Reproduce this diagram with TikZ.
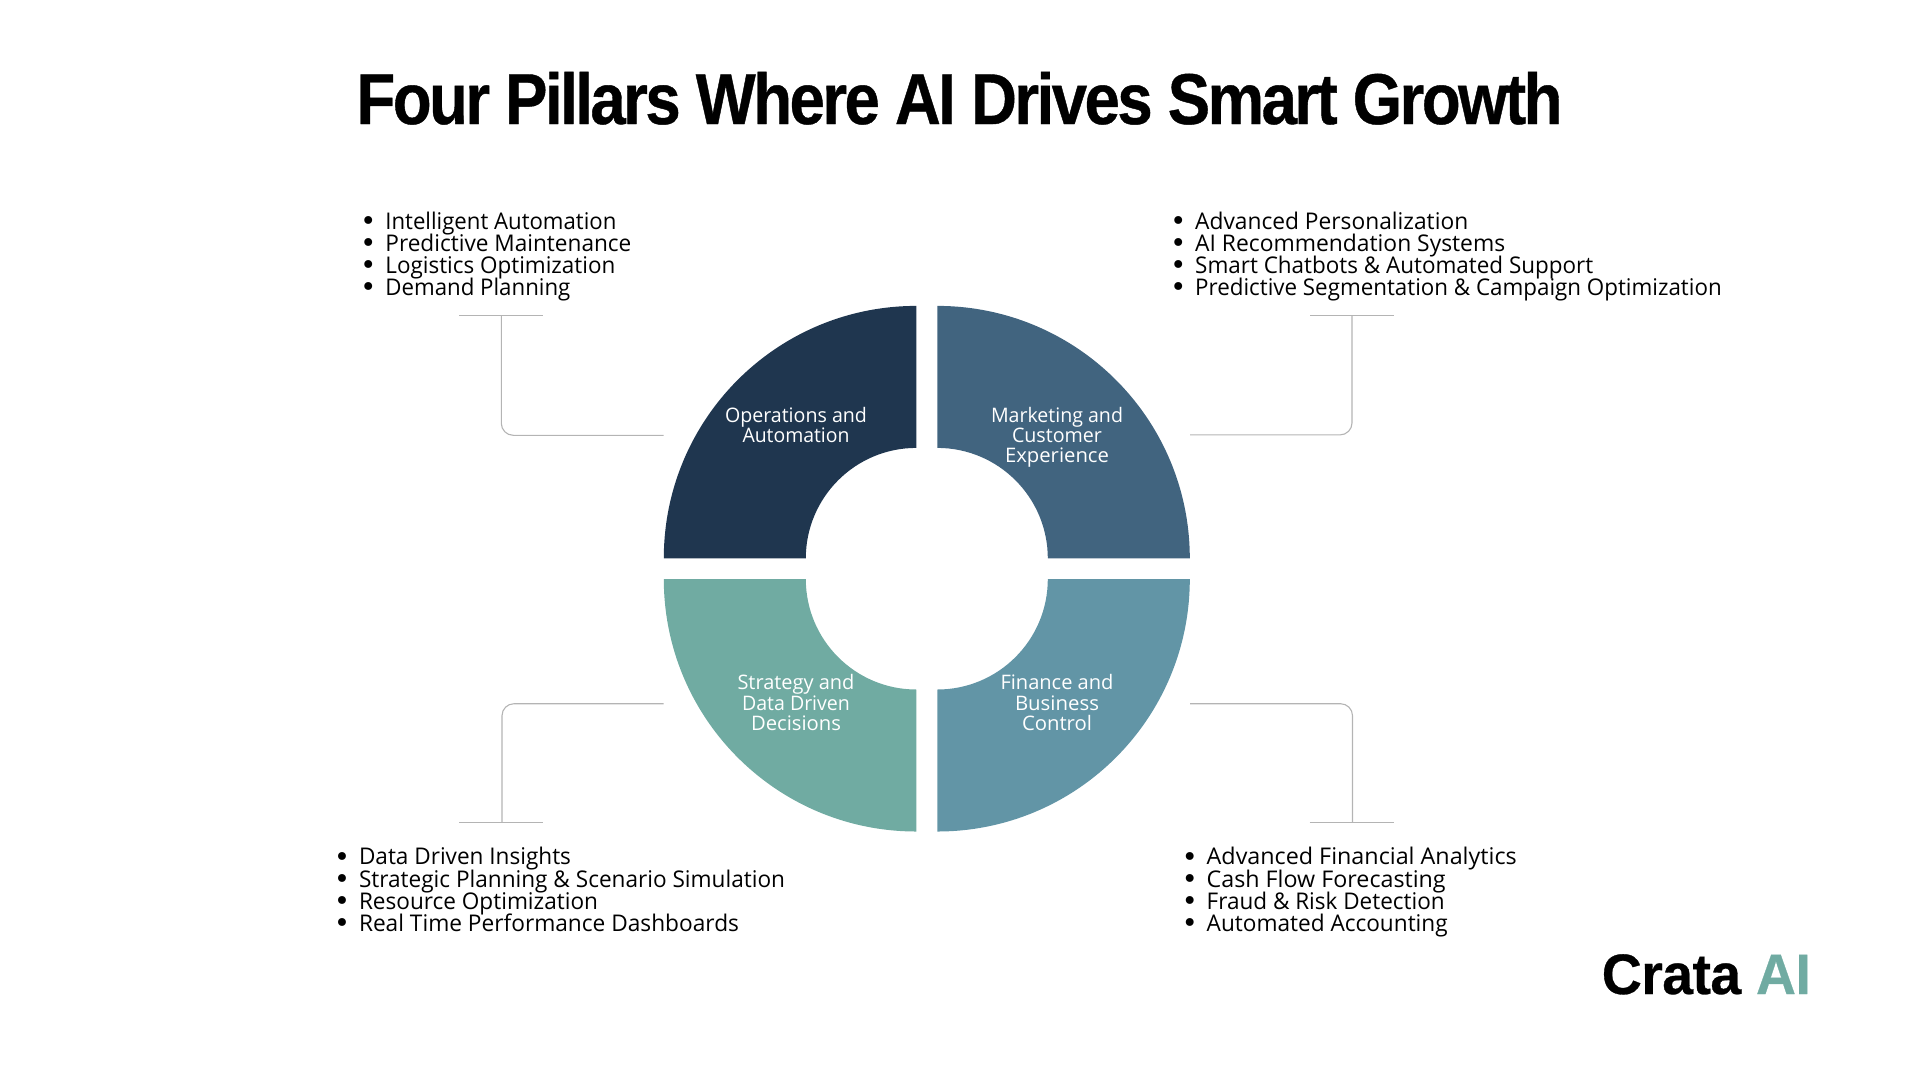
\documentclass[tikz,border=0pt]{standalone}
\usepackage{fontspec}
\usepackage{graphicx}
\setmainfont{Open Sans}
\newfontfamily\titlefont[LetterSpace=-4,FakeBold=0.6]{Liberation Sans}
\newfontfamily\logofont[LetterSpace=-1,FakeBold=0.5]{Liberation Sans}
\newfontfamily\bulfont{DejaVu Sans}
\definecolor{opscol}{HTML}{1F364F}
\definecolor{mktcol}{HTML}{41647F}
\definecolor{stratcol}{HTML}{70ABA2}
\definecolor{fincol}{HTML}{6295A6}
\definecolor{linecol}{HTML}{B4B4B4}
\newcommand\fitw[2]{\resizebox{#1pt}{\height}{#2}}
\newcommand\bul[2]{\llap{{\bulfont\fontsize{27}{27}\selectfont\raisebox{-1.5pt}{•}}\hspace{9pt}}\fitw{#1}{#2}}
\tikzset{
  seglabel/.style={text=white,font=\fontsize{20}{20}\selectfont,inner sep=0pt,anchor=base},
  listitem/.style={text=black,font=\fontsize{23}{23}\selectfont,inner sep=0pt,anchor=base west},
  conn/.style={draw=linecol,line width=1.1pt,rounded corners=12pt},
  barline/.style={draw=linecol,line width=1.1pt},
}
\begin{document}
\begin{tikzpicture}[x=1pt,y=-1pt]
\useasboundingbox (0,0) rectangle (1920,1080);
% sectors
\fill[opscol] (663.8,558.4) arc[start angle=180,end angle=90,radius=252.5pt] -- (916.3,447.9) arc[start angle=90,end angle=180,radius=110.5pt] -- cycle;
\fill[mktcol] (1189.8,558.4) arc[start angle=0,end angle=90,radius=252.5pt] -- (937.3,447.9) arc[start angle=90,end angle=0,radius=110.5pt] -- cycle;
\fill[stratcol] (663.8,579) arc[start angle=180,end angle=270,radius=252.5pt] -- (916.3,689.5) arc[start angle=270,end angle=180,radius=110.5pt] -- cycle;
\fill[fincol] (1189.8,579) arc[start angle=360,end angle=270,radius=252.5pt] -- (937.3,689.5) arc[start angle=270,end angle=360,radius=110.5pt] -- cycle;
% title
\node[inner sep=0pt,anchor=base] (title) at (959.5,124) {\resizebox{1206pt}{\height}{\titlefont\fontsize{72}{72}\selectfont\bfseries Four Pillars Where AI Drives Smart Growth}};
% logo
\node[inner sep=0pt,anchor=base west] (logo) at (1601.6,994) {\resizebox{209pt}{\height}{\logofont\fontsize{57}{57}\selectfont\bfseries Crata \textcolor{stratcol}{AI}}};
% segment labels
\node[seglabel] (ops1) at (796,422.7) {\fitw{142}{Operations and}};
\node[seglabel] (ops2) at (796,442.7) {\fitw{107}{Automation}};
\node[seglabel] (mkt1) at (1057,422.7) {\fitw{132}{Marketing and}};
\node[seglabel] (mkt2) at (1057,442.7) {\fitw{90}{Customer}};
\node[seglabel] (mkt3) at (1057,462.7) {\fitw{104}{Experience}};
\node[seglabel] (str1) at (796,689.8) {\fitw{117}{Strategy and}};
\node[seglabel] (str2) at (796,710.2) {\fitw{108}{Data Driven}};
\node[seglabel] (str3) at (796,730.2) {\fitw{90}{Decisions}};
\node[seglabel] (fin1) at (1057,689.8) {\fitw{113}{Finance and}};
\node[seglabel] (fin2) at (1057,710.2) {\fitw{84}{Business}};
\node[seglabel] (fin3) at (1057,730.2) {\fitw{70}{Control}};
% lists
\node[listitem] (tla) at (385.2,229.3) {\bul{231}{Intelligent Automation}};
\node[listitem] (tlb) at (385.2,251.3) {\bul{246}{Predictive Maintenance}};
\node[listitem] (tlc) at (385.2,273.3) {\bul{230}{Logistics Optimization}};
\node[listitem] (tld) at (385.2,295.3) {\bul{185}{Demand Planning}};
\node[listitem] (tra) at (1195,229.3) {\bul{273}{Advanced Personalization}};
\node[listitem] (trb) at (1195,251.3) {\bul{310}{AI Recommendation Systems}};
\node[listitem] (trc) at (1195,273.3) {\bul{398}{Smart Chatbots \& Automated Support}};
\node[listitem] (trd) at (1195,295.3) {\bul{526.5}{Predictive Segmentation \& Campaign Optimization}};
\node[listitem] (bla) at (358.8,864.7) {\bul{212}{Data Driven Insights}};
\node[listitem] (blb) at (358.8,887) {\bul{426}{Strategic Planning \& Scenario Simulation}};
\node[listitem] (blc) at (358.8,909) {\bul{239}{Resource Optimization}};
\node[listitem] (bld) at (358.8,931) {\bul{380}{Real Time Performance Dashboards}};
\node[listitem] (bra) at (1206.5,864.7) {\bul{310}{Advanced Financial Analytics}};
\node[listitem] (brb) at (1206.5,887) {\bul{239}{Cash Flow Forecasting}};
\node[listitem] (brc) at (1206.5,909) {\bul{238}{Fraud \& Risk Detection}};
\node[listitem] (brd) at (1206.5,931) {\bul{241}{Automated Accounting}};
% connector anchors
\coordinate (tlOut) at (663.5,435.3); \coordinate (tlMid) at (501.3,315.7);
\coordinate (tlL) at (459,315.7); \coordinate (tlR) at (542.7,315.7);
\coordinate (trOut) at (1190,434.9); \coordinate (trMid) at (1352,315.7);
\coordinate (trL) at (1310,315.7); \coordinate (trR) at (1393.5,315.7);
\coordinate (blOut) at (663.5,703.7); \coordinate (blMid) at (502,822.7);
\coordinate (blL) at (459,822.7); \coordinate (blR) at (542.7,822.7);
\coordinate (brOut) at (1190,703.7); \coordinate (brMid) at (1352.5,822.7);
\coordinate (brL) at (1309.6,822.7); \coordinate (brR) at (1393.6,822.7);
\draw[conn] (tlOut) -| (tlMid); \draw[barline] (tlL) -- (tlR);
\draw[conn] (trOut) -| (trMid); \draw[barline] (trL) -- (trR);
\draw[conn] (blOut) -| (blMid); \draw[barline] (blL) -- (blR);
\draw[conn] (brOut) -| (brMid); \draw[barline] (brL) -- (brR);
\end{tikzpicture}
\end{document}
